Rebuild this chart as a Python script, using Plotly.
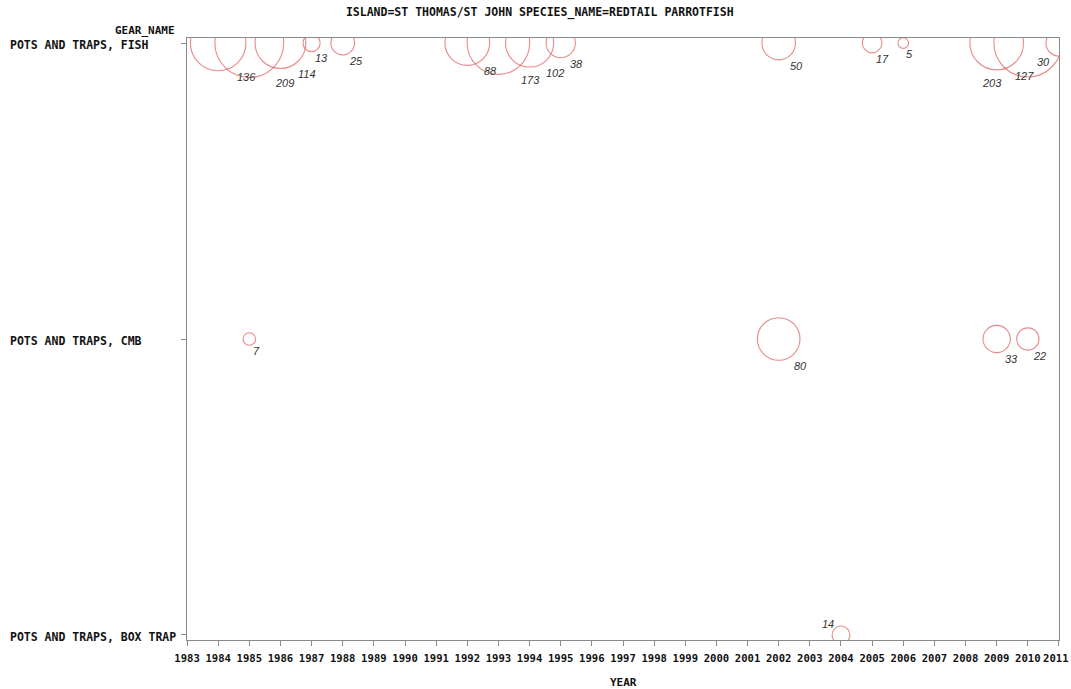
import math
import plotly.graph_objects as go

# ---- data ----
gear_names = ["POTS AND TRAPS, FISH", "POTS AND TRAPS, CMB", "POTS AND TRAPS, BOX TRAP"]

fish_years = [1984, 1985, 1986, 1987, 1988, 1992, 1993, 1994, 1995, 2002, 2005, 2006, 2009, 2010, 2011]
fish_values = [136, 209, 114, 13, 25, 88, 173, 102, 38, 50, 17, 5, 127, 203, 30]

cmb_years = [1985, 2002, 2009, 2010]
cmb_values = [7, 80, 33, 22]

box_years = [2004]
box_values = [14]

year_ticks = list(range(1983, 2012))

# ---- styling ----
W, H = 1071, 689
ML, MR, MT, MB = 187, 12, 38, 49
K = 2.38                      # bubble radius (px) per sqrt(value)
SIZEREF = 1.0 / (2 * K * K)   # plotly area-mode: r = sqrt(v / (2*sizeref))
RED = "#e05a5a"
AX = "#8a8a8a"
MONO = "DejaVu Sans Mono"
TXT = "#111111"
TICKFONT = dict(family=MONO, size=10.6, color=TXT, weight="bold")

plot_w = W - ML - MR
px_per_year = plot_w / (year_ticks[-1] - year_ticks[0])

fig = go.Figure()

rows = [(fish_years, fish_values, 0), (cmb_years, cmb_values, 1), (box_years, box_values, 2)]
annotations = []
for yrs, vals, row in rows:
    fig.add_trace(go.Scatter(
        x=yrs, y=[row] * len(yrs), mode="markers",
        marker=dict(size=vals, sizemode="area", sizeref=SIZEREF,
                    color="rgba(0,0,0,0)", line=dict(color=RED, width=1.1)),
        cliponaxis=True, hoverinfo="x+text", text=[str(v) for v in vals],
        showlegend=False,
    ))
    for x, v in zip(yrs, vals):
        r = K * math.sqrt(v)
        cx = ML + (x - year_ticks[0]) * px_per_year
        if row == len(gear_names) - 1:
            xs, ys = -(r + 4), r + 2
        elif cx + r + 12 > W - MR:
            xs, ys = -(r + 2), -(r + 6)
        else:
            xs, ys = r + 1, -(r + 6)
        annotations.append(dict(
            x=x, y=row, xref="x", yref="y", text="<i>%d</i>" % v, showarrow=False,
            xshift=xs, yshift=ys, xanchor="center", yanchor="middle",
            font=dict(family="Liberation Sans", size=11, color="#333333"),
        ))

# y category labels (left aligned, SAS-style)
for i, name in enumerate(gear_names):
    annotations.append(dict(
        x=0, y=i, xref="paper", yref="y", text=name, showarrow=False,
        xanchor="left", yanchor="middle", xshift=-(ML - 8), yshift=-2,
        font=dict(family=MONO, size=11.5, color=TXT, weight="bold"),
    ))

annotations.append(dict(
    x=0, y=1, xref="paper", yref="paper", text="GEAR_NAME", showarrow=False,
    xanchor="right", yanchor="middle", xshift=-10, yshift=8,
    font=dict(family=MONO, size=11, color=TXT, weight="bold"),
))

annotations.append(dict(
    x=0.5, y=0, xref="paper", yref="paper", text="YEAR", showarrow=False,
    xanchor="center", yanchor="middle", yshift=-42,
    font=dict(family=MONO, size=11, color=TXT, weight="bold"),
))

# last year label sits at the page edge: keep it inside the page
last_year = year_ticks[-1]
ticktext = [str(y) for y in year_ticks[:-1]] + [""]
annotations.append(dict(
    x=last_year, y=0, xref="x", yref="paper", text=str(last_year), showarrow=False,
    xanchor="right", yanchor="middle", xshift=12, yshift=-18,
    font=TICKFONT,
))

fig.update_layout(
    width=W, height=H,
    margin=dict(l=ML, r=MR, t=MT, b=MB, autoexpand=False),
    paper_bgcolor="white", plot_bgcolor="white",
    title=dict(text="ISLAND=ST THOMAS/ST JOHN SPECIES_NAME=REDTAIL PARROTFISH",
               x=0.504, xref="container", xanchor="center",
               y=1 - 12 / H, yref="container", yanchor="middle",
               font=dict(family=MONO, size=11.5, color=TXT, weight="bold")),
    annotations=annotations,
    xaxis=dict(
        range=[year_ticks[0] - 0.001, year_ticks[-1] + 0.001], tickmode="array",
        tickvals=year_ticks, ticktext=ticktext,
        ticks="outside", ticklen=5, tickcolor=AX, tickwidth=1,
        showline=True, linecolor=AX, linewidth=1, mirror=True,
        showgrid=False, zeroline=False, automargin=False,
        ticklabeloverflow="allow", ticklabelstandoff=3,
        tickfont=TICKFONT,
    ),
    yaxis=dict(
        range=[2.017, -0.017], tickmode="array", tickvals=[0, 1, 2],
        ticktext=["", "", ""],
        ticks="outside", ticklen=5, tickcolor=AX, tickwidth=1,
        showline=True, linecolor=AX, linewidth=1, mirror=True,
        showgrid=False, zeroline=False, automargin=False,
    ),
)

fig.write_html(
    "out.html",
    config={"displayModeBar": False},
    post_script="document.body.style.margin='0';document.body.style.overflow='hidden';",
)
